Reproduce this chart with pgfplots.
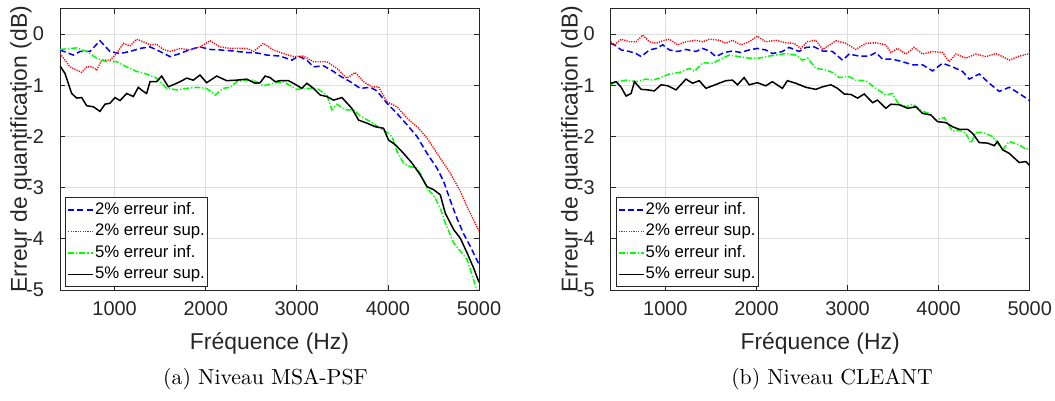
\documentclass[border=0pt]{standalone}
\usepackage{fontspec}
\usepackage{pgfplots}
\pgfplotsset{compat=1.18}
\newfontfamily\arial{Liberation Sans}
\definecolor{axcol}{rgb}{0.15,0.15,0.15}
\definecolor{gridcol}{rgb}{0.875,0.875,0.875}
\pgfplotsset{
  mystyle/.style={
    scale only axis, width=209.5bp, height=140.75bp,
    xmin=400, xmax=5000, ymin=-5, ymax=0.5,
    xtick={1000,2000,3000,4000,5000}, ytick={-5,-4,-3,-2,-1,0},
    scaled x ticks=false,
    /pgf/number format/assume math mode=true,
    /pgf/number format/1000 sep={},
    ticklabel style={font=\arial\fontsize{10}{12}\selectfont, text=axcol},
    xticklabel style={yshift=-2.5bp},
    yticklabel style={xshift=-4.5bp},
    tick align=inside, major tick length=2.5bp,
    tick style={axcol, line width=0.4bp},
    axis line style={axcol, line width=0.5bp},
    grid=major, major grid style={gridcol, line width=0.5bp},
    xlabel={Fréquence (Hz)}, ylabel={Erreur de quantification (dB)},
    label style={font=\arial\fontsize{11.5}{13}\selectfont, text=axcol},
    xlabel style={at={(axis description cs:0.5,-0.2096)}, anchor=base},
    ylabel style={at={(axis description cs:-0.0788,0.5)}, anchor=base},
    legend cell align=left,
    legend style={at={(axis description cs:0.012,0.011)}, anchor=south west,
      draw=axcol, line width=0.5bp, fill=white,
      font=\arial\fontsize{8.4}{9}\selectfont,
      inner xsep=1bp, inner ysep=0.8bp, row sep=0.3bp,
      nodes={inner xsep=0.5bp, inner ysep=1.5bp}},
    legend image code/.code={\draw[##1] (0bp,0bp) -- (12.5bp,0bp);},
  },
  serB/.style={color=blue, draw=blue, line width=0.75bp, dash pattern=on 3bp off 1.6bp},
  serR/.style={color=red, draw=red, line width=0.7bp, dash pattern=on 0.6bp off 0.6bp},
  serG/.style={color=green, draw=green, line width=0.75bp, dash pattern=on 3bp off 1bp on 0.6bp off 1bp},
  serK/.style={color=black, draw=black, line width=0.75bp},
}
\begin{document}
\begin{tikzpicture}
\begin{axis}[mystyle, name=a1, at={(0,0)}, anchor=south west]
\addplot[serB] coordinates {
(400,-0.31) (546,-0.41) (620,-0.34) (729,-0.34) (839,-0.13) (949,-0.34) (1059,-0.38) (1168,-0.34) (1278,-0.28) (1388,-0.25) (1498,-0.34) (1608,-0.44) (1718,-0.38) (1828,-0.30) (1937,-0.25) (2047,-0.30) (2157,-0.31) (2303,-0.33) (2450,-0.36) (2524,-0.36) (2596,-0.38) (2670,-0.41) (2817,-0.43) (2945,-0.51) (3018,-0.43) (3110,-0.51) (3183,-0.64) (3293,-0.62) (3403,-0.73) (3476,-0.82) (3586,-0.93) (3696,-1.06) (3806,-1.04) (3879,-1.11) (3989,-1.35) (4099,-1.55) (4209,-1.77) (4319,-2.00) (4429,-2.33) (4539,-2.62) (4612,-2.88) (4685,-3.25) (4758,-3.60) (4831,-3.90) (4905,-4.15) (4960,-4.35) (5000,-4.50)};
\addlegendentry{2\% erreur inf.}
\addplot[serR] coordinates {
(400,-0.38) (510,-0.64) (638,-0.75) (693,-0.64) (748,-0.64) (803,-0.70) (857,-0.51) (949,-0.51) (1022,-0.38) (1095,-0.18) (1168,-0.23) (1241,-0.10) (1315,-0.15) (1388,-0.21) (1461,-0.20) (1534,-0.30) (1608,-0.34) (1718,-0.28) (1828,-0.31) (1937,-0.25) (2047,-0.13) (2157,-0.25) (2267,-0.28) (2377,-0.28) (2450,-0.28) (2524,-0.34) (2634,-0.18) (2743,-0.31) (2853,-0.38) (2963,-0.44) (3073,-0.43) (3183,-0.54) (3330,-0.54) (3440,-0.67) (3549,-0.86) (3641,-0.75) (3733,-0.93) (3824,-1.03) (3897,-1.03) (3989,-1.32) (4099,-1.42) (4209,-1.64) (4337,-1.84) (4429,-2.03) (4539,-2.33) (4685,-2.72) (4795,-3.07) (4868,-3.37) (4941,-3.63) (5000,-3.85)};
\addlegendentry{2\% erreur sup.}
\addplot[serG] coordinates {
(400,-0.30) (583,-0.27) (693,-0.34) (803,-0.47) (913,-0.54) (1022,-0.54) (1132,-0.64) (1241,-0.73) (1351,-0.78) (1461,-0.86) (1571,-1.06) (1681,-1.09) (1791,-1.06) (1901,-1.04) (2010,-1.06) (2102,-1.19) (2193,-1.06) (2267,-1.04) (2340,-0.93) (2450,-0.90) (2524,-0.90) (2634,-1.01) (2743,-0.96) (2853,-0.93) (2998,-1.08) (3110,-1.06) (3220,-1.06) (3330,-1.19) (3385,-1.48) (3440,-1.37) (3531,-1.48) (3623,-1.48) (3696,-1.60) (3806,-1.71) (3915,-1.84) (4007,-1.94) (4044,-2.00) (4099,-2.29) (4172,-2.52) (4245,-2.59) (4319,-2.62) (4374,-2.78) (4429,-3.01) (4502,-3.15) (4575,-3.40) (4630,-3.69) (4722,-4.08) (4795,-4.24) (4868,-4.40) (4941,-4.80) (4975,-5.00)};
\addlegendentry{5\% erreur inf.}
\addplot[serK] coordinates {
(400,-0.62) (455,-0.77) (528,-1.16) (583,-1.25) (638,-1.24) (693,-1.40) (766,-1.42) (839,-1.51) (894,-1.37) (949,-1.35) (1004,-1.24) (1059,-1.30) (1132,-1.16) (1205,-1.22) (1260,-1.04) (1315,-1.12) (1351,-1.16) (1388,-0.93) (1461,-0.93) (1516,-0.82) (1590,-1.03) (1644,-0.99) (1718,-0.93) (1791,-0.86) (1864,-0.90) (1937,-0.80) (2010,-0.95) (2120,-0.82) (2230,-0.91) (2340,-0.90) (2450,-0.88) (2542,-0.96) (2597,-0.95) (2652,-0.82) (2707,-0.85) (2762,-0.93) (2817,-0.91) (2908,-0.91) (2981,-0.98) (3055,-1.06) (3110,-0.96) (3183,-1.06) (3256,-1.19) (3330,-1.22) (3403,-1.29) (3495,-1.24) (3604,-1.45) (3678,-1.68) (3769,-1.74) (3861,-1.81) (3952,-1.84) (4007,-2.07) (4080,-2.16) (4172,-2.33) (4264,-2.52) (4355,-2.75) (4429,-2.98) (4502,-3.04) (4575,-3.14) (4630,-3.50) (4722,-3.82) (4795,-3.99) (4868,-4.27) (4941,-4.57) (5000,-4.85)};
\addlegendentry{5\% erreur sup.}
\end{axis}
\begin{axis}[mystyle, name=a2, at={(275.35bp,0)}, anchor=south west]
\addplot[serB] coordinates {
(400,-0.18) (460,-0.23) (515,-0.31) (606,-0.34) (679,-0.38) (734,-0.44) (825,-0.31) (898,-0.28) (971,-0.21) (1044,-0.31) (1135,-0.34) (1226,-0.30) (1336,-0.34) (1409,-0.28) (1482,-0.33) (1555,-0.44) (1646,-0.36) (1737,-0.33) (1829,-0.36) (1920,-0.31) (2011,-0.28) (2102,-0.31) (2175,-0.38) (2285,-0.34) (2358,-0.26) (2468,-0.34) (2543,-0.26) (2634,-0.25) (2726,-0.33) (2835,-0.34) (2945,-0.51) (3018,-0.39) (3128,-0.43) (3238,-0.43) (3311,-0.36) (3384,-0.49) (3494,-0.49) (3604,-0.54) (3714,-0.60) (3824,-0.60) (3933,-0.72) (4043,-0.57) (4153,-0.64) (4263,-0.73) (4336,-0.88) (4446,-0.78) (4556,-0.96) (4665,-1.12) (4775,-1.04) (4885,-1.16) (5000,-1.30)};
\addlegendentry{2\% erreur inf.}
\addplot[serR] coordinates {
(400,-0.15) (441,-0.21) (515,-0.10) (606,-0.15) (679,-0.15) (752,-0.02) (825,-0.15) (898,-0.18) (971,-0.13) (1044,-0.10) (1135,-0.21) (1226,-0.15) (1336,-0.12) (1409,-0.15) (1482,-0.10) (1591,-0.12) (1664,-0.18) (1737,-0.12) (1829,-0.21) (1920,-0.15) (2011,-0.04) (2102,-0.15) (2212,-0.12) (2321,-0.17) (2413,-0.18) (2486,-0.28) (2559,-0.15) (2652,-0.12) (2726,-0.30) (2872,-0.13) (2982,-0.18) (3092,-0.30) (3201,-0.18) (3311,-0.17) (3421,-0.21) (3476,-0.36) (3549,-0.28) (3641,-0.39) (3732,-0.26) (3824,-0.39) (3933,-0.34) (4043,-0.36) (4116,-0.54) (4190,-0.39) (4299,-0.47) (4409,-0.39) (4519,-0.44) (4629,-0.38) (4702,-0.44) (4775,-0.51) (4885,-0.43) (5000,-0.38)};
\addlegendentry{2\% erreur sup.}
\addplot[serG] coordinates {
(400,-0.99) (460,-0.93) (569,-0.90) (679,-0.93) (788,-0.88) (861,-0.90) (934,-0.86) (1044,-0.78) (1153,-0.75) (1263,-0.67) (1318,-0.73) (1409,-0.56) (1518,-0.57) (1628,-0.47) (1701,-0.41) (1810,-0.44) (1920,-0.47) (2029,-0.47) (2139,-0.43) (2212,-0.41) (2321,-0.38) (2433,-0.41) (2506,-0.51) (2561,-0.47) (2652,-0.67) (2762,-0.70) (2835,-0.75) (2908,-0.85) (3018,-0.83) (3092,-0.90) (3201,-0.91) (3311,-1.06) (3421,-1.19) (3494,-1.16) (3549,-1.34) (3641,-1.42) (3714,-1.37) (3824,-1.51) (3897,-1.55) (3970,-1.68) (4061,-1.63) (4153,-1.90) (4226,-1.87) (4299,-1.94) (4354,-2.13) (4409,-1.92) (4482,-1.92) (4592,-2.00) (4702,-2.26) (4775,-2.10) (4885,-2.16) (4958,-2.25) (5000,-2.23)};
\addlegendentry{5\% erreur inf.}
\addplot[serK] coordinates {
(400,-0.96) (460,-0.93) (515,-1.04) (569,-1.21) (624,-1.16) (661,-0.93) (734,-1.08) (806,-1.09) (879,-1.11) (953,-0.99) (1026,-1.01) (1117,-1.09) (1226,-0.88) (1300,-0.96) (1372,-0.91) (1445,-1.06) (1518,-1.01) (1591,-0.96) (1664,-0.91) (1737,-0.90) (1792,-0.99) (1865,-0.85) (1920,-0.99) (2011,-0.95) (2102,-1.01) (2175,-0.93) (2285,-1.06) (2340,-0.91) (2431,-0.96) (2543,-1.04) (2652,-1.08) (2726,-1.03) (2817,-0.99) (2890,-1.06) (2963,-1.17) (3037,-1.18) (3110,-1.25) (3183,-1.17) (3275,-1.34) (3329,-1.29) (3421,-1.45) (3476,-1.37) (3567,-1.38) (3659,-1.45) (3751,-1.42) (3824,-1.55) (3915,-1.58) (3988,-1.71) (4080,-1.73) (4153,-1.81) (4226,-1.86) (4318,-1.86) (4373,-1.94) (4446,-2.12) (4538,-2.13) (4611,-2.18) (4647,-2.10) (4702,-2.26) (4775,-2.33) (4885,-2.51) (4958,-2.49) (5000,-2.57)};
\addlegendentry{5\% erreur sup.}
\end{axis}
\node[anchor=base, font=\fontsize{10.9}{13}\selectfont, inner sep=0] at (102.75bp,-47.2bp) {(a) Niveau MSA-PSF};
\node[anchor=base, font=\fontsize{10.9}{13}\selectfont, inner sep=0] at (386bp,-47.2bp) {(b) Niveau CLEANT};
\pgfresetboundingbox
\path[use as bounding box] (-30bp,-55.5bp) rectangle (497.5bp,145bp);
\end{tikzpicture}
\end{document}
